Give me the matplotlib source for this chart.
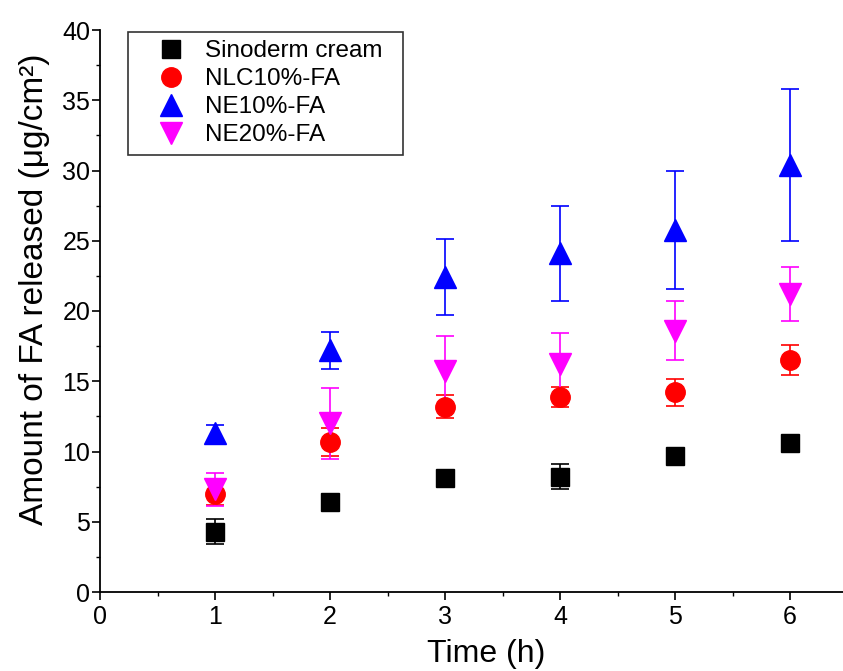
import numpy as np
import matplotlib
matplotlib.use("Agg")
import matplotlib.pyplot as plt
from matplotlib.ticker import MultipleLocator

plt.rcParams['font.family'] = ['Liberation Sans', 'DejaVu Sans']

# data
time_h = [1, 2, 3, 4, 5, 6]
labels = ['Sinoderm cream', 'NLC10%-FA', 'NE10%-FA', 'NE20%-FA']

sinoderm = [4.3, 6.4, 8.1, 8.2, 9.7, 10.6]
sinoderm_err = [0.9, 0.3, 0.4, 0.9, 0.5, 0.4]
nlc10 = [7.0, 10.7, 13.2, 13.9, 14.2, 16.5]
nlc10_err = [0.8, 1.0, 0.8, 0.7, 0.95, 1.05]
ne10 = [11.3, 17.2, 22.4, 24.1, 25.8, 30.4]
ne10_err = [0.6, 1.3, 2.7, 3.4, 4.2, 5.4]
ne20 = [7.3, 12.0, 15.7, 16.2, 18.6, 21.2]
ne20_err = [1.2, 2.5, 2.5, 2.2, 2.1, 1.9]

series = [
    (sinoderm, sinoderm_err, 's', 'black', 12.5),
    (nlc10, nlc10_err, 'o', 'red', 14),
    (ne10, ne10_err, '^', 'blue', 15.5),
    (ne20, ne20_err, 'v', 'magenta', 15.5),
]

fig = plt.figure(figsize=(8.43, 6.71), dpi=100)
ax = fig.add_axes([100 / 843, 79 / 671, 743 / 843, 562 / 671])

handles = []
for (vals, errs, mk, col, ms), lab in zip(series, labels):
    cont = ax.errorbar(time_h, vals, yerr=errs, fmt=mk, color=col, ecolor=col,
                       markersize=ms, elinewidth=1.2, capsize=6.5, capthick=1.2,
                       label=lab, linestyle='none')
    handles.append(cont[0])  # markers only for the legend

ax.set_xlim(0, 743 / 115)
ax.set_ylim(0, 40)
ax.xaxis.set_major_locator(MultipleLocator(1))
ax.xaxis.set_minor_locator(MultipleLocator(0.5))
ax.yaxis.set_major_locator(MultipleLocator(5))
ax.yaxis.set_minor_locator(MultipleLocator(2.5))
ax.tick_params(which='major', direction='out', length=5.5, width=1.2, labelsize=18)
ax.tick_params(axis='y', which='major', pad=1.5)
ax.tick_params(which='minor', direction='out', length=3, width=1.0)

for s in ['top', 'right']:
    ax.spines[s].set_visible(False)
for s in ['left', 'bottom']:
    ax.spines[s].set_linewidth(1.3)

ax.set_xlabel('Time (h)', fontsize=23)
ax.set_ylabel('Amount of FA released (\u03bcg/cm\u00b2)', fontsize=24)
ax.xaxis.set_label_coords(0.52, -0.083)
ax.yaxis.set_label_coords(-0.067, 0.539)

leg = ax.legend(handles, labels, loc='upper left',
                bbox_to_anchor=(0.0377, 0.5, 0.370, 0.497),
                mode='expand', borderaxespad=0, fontsize=17.5,
                frameon=True, fancybox=False, edgecolor='black',
                handletextpad=0.0, borderpad=0.35, labelspacing=0.25,
                handlelength=2.8)
leg.get_frame().set_linewidth(1.2)

fig.savefig('out.png', dpi=100)
